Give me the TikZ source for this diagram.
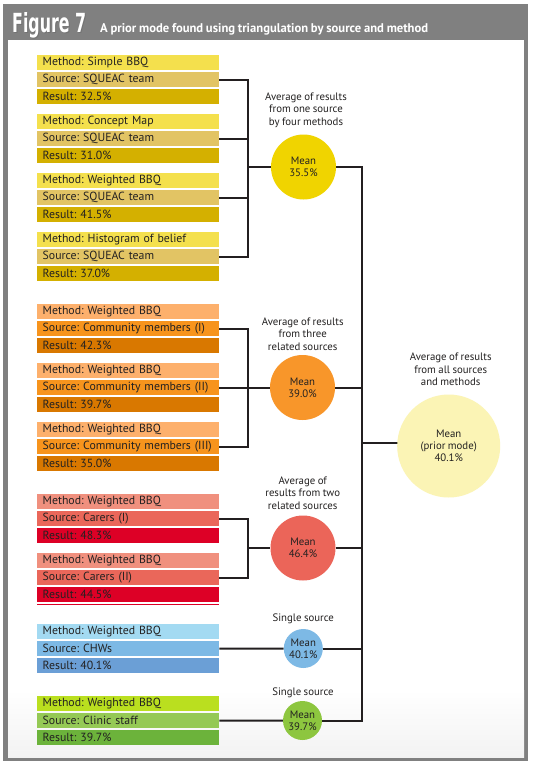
\documentclass[tikz,border=0pt]{standalone}
\usepackage{fontspec}
\setmainfont{PT Sans}[WordSpace=0.85]
\newfontfamily\titlefont{DejaVu Sans}
\usetikzlibrary{calc}
\pgfdeclarelayer{back}
\pgfdeclarelayer{bg}
\pgfsetlayers{back,bg,main}
\frenchspacing
\definecolor{frame}{HTML}{808080}
\definecolor{txt}{HTML}{232121}
\definecolor{line}{HTML}{231F20}
\definecolor{ym}{HTML}{F4E04D}\definecolor{ys}{HTML}{E2C464}\definecolor{yr}{HTML}{D4B000}\definecolor{yc}{HTML}{F0D400}
\definecolor{om}{HTML}{FDB06C}\definecolor{os}{HTML}{F7941D}\definecolor{or}{HTML}{D97800}\definecolor{oc}{HTML}{F8962A}
\definecolor{rm}{HTML}{F0907E}\definecolor{rs}{HTML}{EA675A}\definecolor{rr}{HTML}{DD0026}\definecolor{rc}{HTML}{EB6559}
\definecolor{bm}{HTML}{A3DAF2}\definecolor{bs}{HTML}{7DB9E5}\definecolor{br}{HTML}{6B9FD6}\definecolor{bc}{HTML}{7DB9E5}
\definecolor{gm}{HTML}{BADF1F}\definecolor{gs}{HTML}{95C955}\definecolor{gr}{HTML}{6CB33B}\definecolor{gc}{HTML}{8DC63F}
\definecolor{bigc}{HTML}{FBF4B5}
\newcommand\grp[6]{%
  \node[bar, fill=#3m] (m-#1) at (37,#2) {\mbox{Method: #4}};
  \node[bar, fill=#3s] (s-#1) at (37,#2+17) {\mbox{Source: #5}};
  \node[bar, fill=#3r] (r-#1) at (37,#2+34) {\mbox{Result: #6}};}
\begin{document}
\begin{tikzpicture}[x=1pt,y=-1pt,
  bar/.style={rectangle, anchor=north west, minimum width=182pt, minimum height=15pt,
    inner xsep=5.5pt, inner ysep=0pt, text width=171pt, align=left,
    font=\fontsize{11.8}{13}\selectfont\frenchspacing, text=txt},
  mean/.style={circle, inner sep=0pt, align=center, text=txt,
    font=\fontsize{10.8}{12}\selectfont},
  lbl/.style={align=center, text=txt, inner sep=0pt,
    font=\fontsize{10.8}{12.3}\selectfont},
  conn/.style={draw=line, line width=2pt}]
\useasboundingbox (0,0) rectangle (535,763);
\begin{pgfonlayer}{back}
  \fill[frame] (3,4) rectangle (528,761);
  \fill[white] (8,40) rectangle (524,757);
  \shade[top color=white, bottom color=black!5] (8,690) rectangle (524,757);
\end{pgfonlayer}
% title
\node[anchor=base west, inner sep=0pt, text=black!55] at (13,33) {\resizebox{74pt}{20pt}{\titlefont\bfseries Figure 7}};
\node[anchor=base west, inner sep=0pt, text=white] (title) at (12,32) {\resizebox{74pt}{20pt}{\titlefont\bfseries Figure 7}};
\node[anchor=base west, inner sep=0pt, text=white] (subtitle) at (100,32) {\resizebox{328pt}{!}{\bfseries A prior mode found using triangulation by source and method}};
% groups
\grp{ya}{55}{y}{Simple BBQ}{SQUEAC team}{32.5\%}
\grp{yb}{114}{y}{Concept Map}{SQUEAC team}{31.0\%}
\grp{yc}{173}{y}{Weighted BBQ}{SQUEAC team}{41.5\%}
\grp{yd}{232}{y}{Histogram of belief}{SQUEAC team}{37.0\%}
\grp{oa}{304}{o}{Weighted BBQ}{Community members (I)}{42.3\%}
\grp{ob}{363}{o}{Weighted BBQ}{Community members (II)}{39.7\%}
\grp{oc}{422}{o}{Weighted BBQ}{Community members (III)}{35.0\%}
\grp{ra}{494}{r}{Weighted BBQ}{Carers (I)}{48.3\%}
\grp{rb}{553}{r}{Weighted BBQ}{Carers (II)}{44.5\%}
\grp{ba}{624}{b}{Weighted BBQ}{CHWs}{40.1\%}
\grp{ga}{696}{g}{Weighted BBQ}{Clinic staff}{39.7\%}
\fill[rr] (37,603.5) rectangle (219,605);
% circles
\node[mean, fill=yc, minimum size=65pt] (c1) at (303.5,167) {Mean\\35.5\%};
\node[mean, fill=oc, minimum size=65pt] (c2) at (302.5,387.5) {Mean\\39.0\%};
\node[mean, fill=rc, minimum size=65pt] (c3) at (303,548) {Mean\\46.4\%};
\node[mean, fill=bc, minimum size=39pt] (c4) at (303.3,648.5) {Mean\\40.1\%};
\node[mean, fill=gc, minimum size=39pt] (c5) at (302.5,720.5) {Mean\\39.7\%};
\node[mean, fill=bigc, minimum size=103pt] (big) at (448.7,446) {Mean\\(prior mode)\\40.1\%};
% labels
\node[lbl] (l1) at (306,110) {Average of results\\from one source\\by four methods};
\node[lbl] (l2) at (302.7,334) {Average of results\\from three\\related sources};
\node[lbl] (l3) at (302.7,493) {Average of\\results from two\\related sources};
\node[lbl] (l4) at (303.3,618.3) {Single source};
\node[lbl] (l5) at (303,692.7) {Single source};
\node[lbl] (l6) at (450.7,369.3) {Average of results\\from all sources\\and methods};
% connectors
\coordinate (j1) at (248,167);
\coordinate (j2) at (248,387.5);
\coordinate (j3) at (248,548);
\coordinate (T) at (361.7,443);
\begin{pgfonlayer}{bg}
  \foreach \s in {ya,yb,yc,yd} \draw[conn] (s-\s.east) -| (j1);
  \foreach \s in {oa,ob,oc} \draw[conn] (s-\s.east) -| (j2);
  \foreach \s in {ra,rb} \draw[conn] (s-\s.east) -| (j3);
  \draw[conn] (j1) -- (c1);
  \draw[conn] (j2) -- (c2);
  \draw[conn] (j3) -- (c3);
  \draw[conn] (s-ba.east) -- (c4);
  \draw[conn] (s-ga.east) -- (c5);
  \foreach \c in {c1,c2,c3,c4,c5} \draw[conn] (\c.east) -| (T);
  \draw[conn] (T) -- (T -| big);
\end{pgfonlayer}
\end{tikzpicture}
\end{document}
